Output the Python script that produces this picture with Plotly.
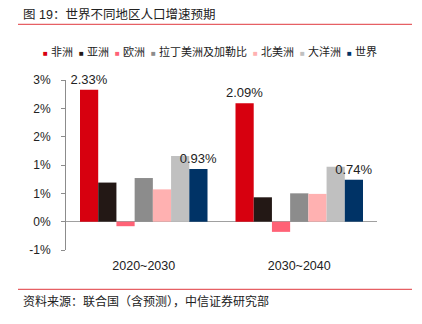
import plotly.graph_objects as go

# ---- data ----
categories = ["2020~2030", "2030~2040"]
series_names = ["非洲", "亚洲", "欧洲", "拉丁美洲及加勒比", "北美洲", "大洋洲", "世界"]
africa = [2.33, 2.09]
asia = [0.69, 0.43]
europe = [-0.08, -0.18]
latam = [0.77, 0.50]
north_america = [0.57, 0.49]
oceania = [1.16, 0.97]
world = [0.93, 0.74]
series_values = [africa, asia, europe, latam, north_america, oceania, world]
labelled_series = ["非洲", "世界"]
y_tick_vals = [-0.5, 0, 0.5, 1.0, 1.5, 2.0, 2.5]
y_tick_text = ["-1%", "0%", "1%", "1%", "2%", "2%", "3%"]
title_text = "图 19：世界不同地区人口增速预期"
source_text = "资料来源：联合国（含预测），中信证券研究部"

# ---- style ----
colors = ["#d7000f", "#231815", "#ff6276", "#8c8c8c", "#ffb1b1", "#c0c0c0", "#003366"]
W, H = 422, 324
ML, MR, MT, MB = 66, 45, 80, 74
PW, PH = W - ML - MR, H - MT - MB
FONT = "Liberation Sans, Arial, Noto Sans CJK SC, sans-serif"


def px(x):
    return (x - ML) / PW


def py(y):
    return (H - MB - y) / PH


fig = go.Figure()
for name, vals, col in zip(series_names, series_values, colors):
    show_text = name in labelled_series
    fig.add_trace(go.Bar(
        x=categories, y=vals, name=name,
        marker=dict(color=col, line=dict(width=0)),
        text=[f"{v:.2f}%" for v in vals] if show_text else None,
        textposition="outside" if show_text else "none",
        textfont=dict(size=13, color="#222222", family=FONT),
        constraintext="none",
        cliponaxis=False,
        showlegend=False,
    ))

legend_html = "&nbsp;&nbsp;".join(
    f"<span style='color:{c};font-size:8px'>■</span>&nbsp;{n}" for n, c in zip(series_names, colors)
)

fig.update_layout(
    width=W, height=H,
    margin=dict(l=ML, r=MR, t=MT, b=MB, pad=0),
    paper_bgcolor="white", plot_bgcolor="white",
    barmode="group", bargap=0.18, bargroupgap=0,
    font=dict(family=FONT, size=12, color="#222222"),
    xaxis=dict(
        type="category", range=[-0.5, 1.5], showline=False, showgrid=False,
        ticks="", tickfont=dict(size=12.5), zeroline=False, ticklabelstandoff=6,
    ),
    yaxis=dict(
        range=[-0.5, 2.5], tickvals=y_tick_vals, ticktext=y_tick_text,
        showgrid=False, showline=True, linecolor="#8c8c8c", linewidth=1,
        ticks="outside", ticklen=4, tickcolor="#8c8c8c",
        zeroline=True, zerolinecolor="#a0a0a0", zerolinewidth=1.2,
        tickfont=dict(size=12), ticklabelstandoff=8,
    ),
    shapes=[
        dict(type="line", xref="paper", yref="paper", x0=px(18), x1=px(412),
             y0=py(24.3), y1=py(24.3), line=dict(color="#e0393e", width=1)),
        dict(type="line", xref="paper", yref="paper", x0=px(18), x1=px(412),
             y0=py(289.3), y1=py(289.3), line=dict(color="#e0393e", width=1)),
    ],
    annotations=[
        dict(text=title_text, xref="paper", yref="paper", x=px(21), y=py(14),
             xanchor="left", yanchor="middle", showarrow=False,
             font=dict(size=12.5, color="#222222")),
        dict(text=legend_html, xref="paper", yref="paper", x=px(210), y=py(51.7),
             xanchor="center", yanchor="middle", showarrow=False,
             font=dict(size=11, color="#222222")),
        dict(text=source_text, xref="paper", yref="paper", x=px(21), y=py(301.7),
             xanchor="left", yanchor="middle", showarrow=False,
             font=dict(size=12, color="#222222")),
    ],
)

fig.write_html("out.html")
